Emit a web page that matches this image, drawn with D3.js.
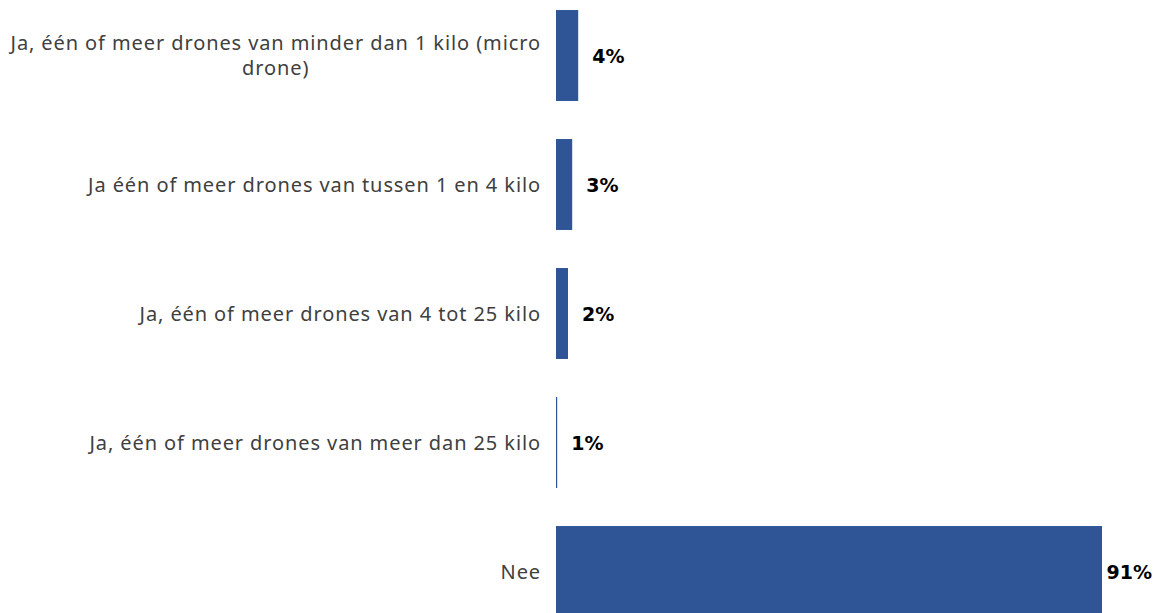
<!DOCTYPE html>
<html>
<head>
<meta charset="utf-8">
<script src="https://cdn.jsdelivr.net/npm/d3@7"></script>
<style>
  body { margin: 0; background: #fff; }
  svg { display: block; }
</style>
</head>
<body>
<svg width="1161" height="613"></svg>
<script>
var categories = [
	"Ja, één of meer drones van minder dan 1 kilo (micro drone)",
	"Ja één of meer drones van tussen 1 en 4 kilo",
	"Ja, één of meer drones van 4 tot 25 kilo",
	"Ja, één of meer drones van meer dan 25 kilo",
	"Nee"
];
// bar lengths (percent)
var values = [3.7, 2.7, 2.0, 0.2, 91];
// the labels shown next to the bars
var valueLabels = ["4%", "3%", "2%", "1%", "91%"];

var svg = d3.select("svg");
var width = +svg.attr("width");
var height = +svg.attr("height");

var labelFont = "'Noto Sans', sans-serif";
var valueFont = "'DejaVu Sans', sans-serif";
var x0 = 556;

var x = d3.scaleLinear().domain([0, 91]).range([x0, 1102]);

var y = d3
	.scaleBand()
	.domain(categories)
	.range([-9, -9 + 5 * 129])
	.paddingInner(0.295)
	.paddingOuter(0.1475);

var g = svg.append("g");

// bars
g.selectAll("rect")
	.data(values)
	.enter()
	.append("rect")
	.attr("x", x0)
	.attr("y", (d, i) => y(categories[i]))
	.attr("width", (d) => Math.max(1, x(d) - x0))
	.attr("height", y.bandwidth())
	.attr("fill", "#2F5597");

// value labels
var vl = g
	.selectAll("text.val")
	.data(values)
	.enter()
	.append("text")
	.attr("class", "val")
	.attr("y", (d, i) => y(categories[i]) + y.bandwidth() / 2)
	.attr("dy", "0.38em")
	.style("font-family", valueFont)
	.style("font-size", "19px")
	.style("font-weight", "bold")
	.style("fill", "#000")
	.text((d, i) => valueLabels[i]);

vl.attr("x", function (d) {
	var w = this.getComputedTextLength();
	return Math.min(Math.max(1, x(d) - x0) + x0 + 14, width - 9 - w);
});

// category labels, wrapped; lines centred inside a right-aligned block
var labelRight = 541;
var maxLabelW = 540;
var lineH = 25;

categories.forEach(function (c, i) {
	var t = g
		.append("text")
		.style("font-family", labelFont)
		.style("font-size", "20px")
		.style("letter-spacing", "0.9px")
		.style("fill", "#404040")
		.attr("text-anchor", "middle");

	var words = c.split(" ");
	var lines = [];
	var line = [];
	var probe = t.append("tspan");
	words.forEach(function (w) {
		line.push(w);
		probe.text(line.join(" "));
		if (probe.node().getComputedTextLength() > maxLabelW && line.length > 1) {
			line.pop();
			lines.push(line.join(" "));
			line = [w];
		}
	});
	lines.push(line.join(" "));
	probe.remove();

	var widest = 0;
	var spans = lines.map(function (l) {
		var s = t.append("tspan").text(l);
		widest = Math.max(widest, s.node().getComputedTextLength());
		return s;
	});
	var cx = labelRight - widest / 2;
	var cy = y(c) + y.bandwidth() / 2 - ((lines.length - 1) * lineH) / 2;
	spans.forEach(function (s, k) {
		s.attr("x", cx).attr("y", cy + k * lineH).attr("dy", "0.35em");
	});
});
</script>
</body>
</html>
